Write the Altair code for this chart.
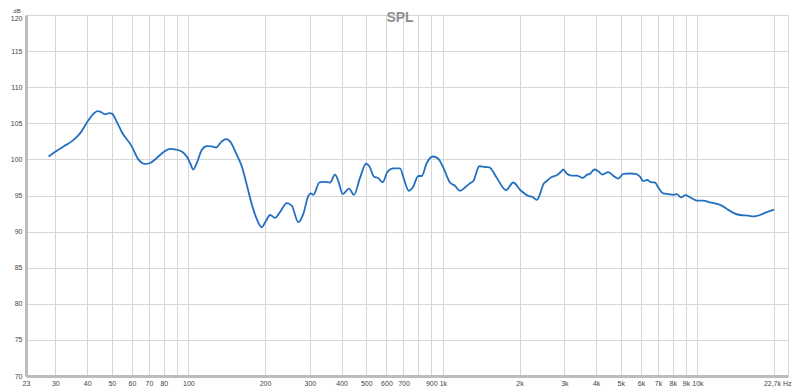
import altair as alt
import pandas as pd

freq_hz = [28.2, 30.4, 32.3, 34.8, 37.5, 40.4, 42.3, 43.9, 45.4, 47.0, 48.9, 50.2, 52.3, 54.7,
           59.9, 63.6, 67.5, 70.7, 75.1, 79.7, 84.7, 88.6, 94.1, 98.5, 101.5, 104.5, 107.8,
           112.8, 118, 123.5, 128.3, 135.2, 140.5, 145.7, 154.8, 162, 169.5, 177.4, 185.5,
           194.1, 201.8, 209.3, 218.9, 229, 243.3, 254.6, 270.3, 282.8, 295.9, 302.4, 309.7,
           326.9, 338.8, 360, 376.7, 388.2, 404, 427.6, 447.4, 472.3, 498.8, 513.8, 536.2,
           554.4, 580.1, 604.7, 638.5, 678.3, 703.4, 733.8, 760.9, 800.6, 825.7, 863.8, 912,
           959, 1004, 1066, 1115, 1167, 1221, 1278, 1317, 1390, 1464, 1522, 1627, 1770, 1891,
           2009, 2166, 2250, 2337, 2392, 2481, 2558, 2676, 2801, 2904, 2972, 3066, 3207, 3357,
           3543, 3694, 3784, 3934, 4079, 4245, 4467, 4672, 4890, 5114, 5435, 5739, 5950, 6130,
           6355, 6554, 6815, 7022, 7345, 7689, 8040, 8292, 8621, 8995, 9352, 9937, 10550,
           11207, 11726, 12461, 13035, 13840, 14703, 15850, 16689, 17620, 18720, 20000]
spl_db = [100.4, 101.2, 101.8, 102.5, 103.6, 105.4, 106.3, 106.7, 106.55, 106.25, 106.4, 106.3,
          105.2, 103.8, 101.8, 100.0, 99.37, 99.5, 100.2, 101.0, 101.45, 101.4, 101.1, 100.4,
          99.5, 98.6, 99.5, 101.3, 101.85, 101.8, 101.65, 102.5, 102.8, 102.5, 100.65, 99.05,
          96.5, 93.8, 91.75, 90.6, 91.5, 92.3, 91.9, 92.7, 93.95, 93.6, 91.3, 92.45, 94.95,
          95.3, 95.1, 96.8, 96.9, 96.8, 97.9, 97.0, 95.2, 95.95, 95.1, 97.45, 99.4, 99.05,
          97.6, 97.45, 96.85, 98.25, 98.75, 98.75, 97.25, 95.65, 96.1, 97.7, 97.7, 99.5,
          100.4, 100.1, 98.85, 96.8, 96.35, 95.65, 96.1, 96.7, 97.0, 99.05, 98.95, 98.9,
          97.45, 95.75, 96.8, 95.8, 94.95, 94.8, 94.4, 94.95, 96.55, 97.0, 97.55, 97.8,
          98.25, 98.6, 98.05, 97.75, 97.75, 97.45, 97.9, 98.0, 98.6, 98.35, 97.9, 98.25,
          97.75, 97.35, 98.0, 98.05, 98.0, 97.6, 97.0, 97.15, 96.85, 96.8, 96.1, 95.3, 95.2,
          95.1, 95.2, 94.75, 95.05, 94.75, 94.3, 94.3, 94.05, 93.9, 93.6, 93.15, 92.6, 92.3,
          92.2, 92.1, 92.3, 92.7, 93.05]

x_tick_values = [23, 30, 40, 50, 60, 70, 80, 90, 100, 200, 300, 400, 500, 600, 700, 800, 900,
                 1000, 2000, 3000, 4000, 5000, 6000, 7000, 8000, 9000, 10000, 20000, 22700]
x_tick_labels = ["23", "30", "40", "50", "60", "70", "80", "", "100", "200", "300", "400", "500",
                 "600", "700", "", "900", "1k", "2k", "3k", "4k", "5k", "6k", "7k", "8k", "9k",
                 "10k", "", "22,7k Hz"]
y_tick_values = [70, 75, 80, 85, 90, 95, 100, 105, 110, 115, 120]
x_domain = [23, 22700]
y_domain = [70, 120]
title_text = "SPL"
y_unit = "dB"

df = pd.DataFrame({"freq": freq_hz, "spl": spl_db})

label_map = "{" + ",".join(f"'{v}':'{l}'" for v, l in zip(x_tick_values, x_tick_labels)) + "}"
x_label_expr = f"{label_map}[''+datum.value]"

FONT = "Liberation Sans"
LABEL_COLOR = "#444444"
GRID_COLOR = "#d6d6d6"
FRAME_COLOR = "#bdbdbd"

line = alt.Chart(df).mark_line(color="#2370c0", strokeWidth=1.8, interpolate="monotone").encode(
    x=alt.X("freq:Q",
            scale=alt.Scale(type="log", domain=x_domain, nice=False),
            axis=alt.Axis(values=x_tick_values, labelExpr=x_label_expr, title=None,
                          grid=True, gridColor=GRID_COLOR, gridWidth=1,
                          ticks=False, labelPadding=3, labelOverlap=False,
                          labelFont=FONT, labelFontSize=7, labelColor=LABEL_COLOR,
                          labelBaseline="top",
                          labelAlign=alt.condition("datum.value > 21000", alt.value("right"), alt.value("center")),
                          labelOffset=alt.condition("datum.value > 21000", alt.value(3), alt.value(0)),
                          domainColor=FRAME_COLOR, domainWidth=3)),
    y=alt.Y("spl:Q",
            scale=alt.Scale(domain=y_domain, nice=False, zero=False),
            axis=alt.Axis(values=y_tick_values, title=None, grid=True,
                          gridColor=GRID_COLOR, gridWidth=1, ticks=False,
                          labelPadding=4, labelFont=FONT, labelFontSize=7,
                          labelOffset=alt.condition("datum.value >= 120", alt.value(3), alt.value(0)),
                          labelColor=LABEL_COLOR, domainColor=FRAME_COLOR, domainWidth=3)),
)

texts = pd.DataFrame({"t": [title_text]})
title = alt.Chart(texts).mark_text(font=FONT, fontSize=14, fontWeight="bold", color="#8f8f8f",
                                   baseline="alphabetic", align="center").encode(
    text="t:N", x=alt.value(374), y=alt.value(7))

units = pd.DataFrame({"t": [y_unit]})
unit = alt.Chart(units).mark_text(font=FONT, fontSize=6, color=LABEL_COLOR,
                                  baseline="top", align="center").encode(
    text="t:N", x=alt.value(-9), y=alt.value(-7))

chart = alt.layer(line, title, unit).properties(
    width=762, height=361,
    autosize=alt.AutoSizeParams(type="none"),
    padding={"left": 18, "top": 7, "right": 4, "bottom": 12},
).configure_view(stroke=FRAME_COLOR, strokeWidth=2).configure(background="white")

chart.save("out.html", embed_options={"renderer": "svg", "actions": False})
